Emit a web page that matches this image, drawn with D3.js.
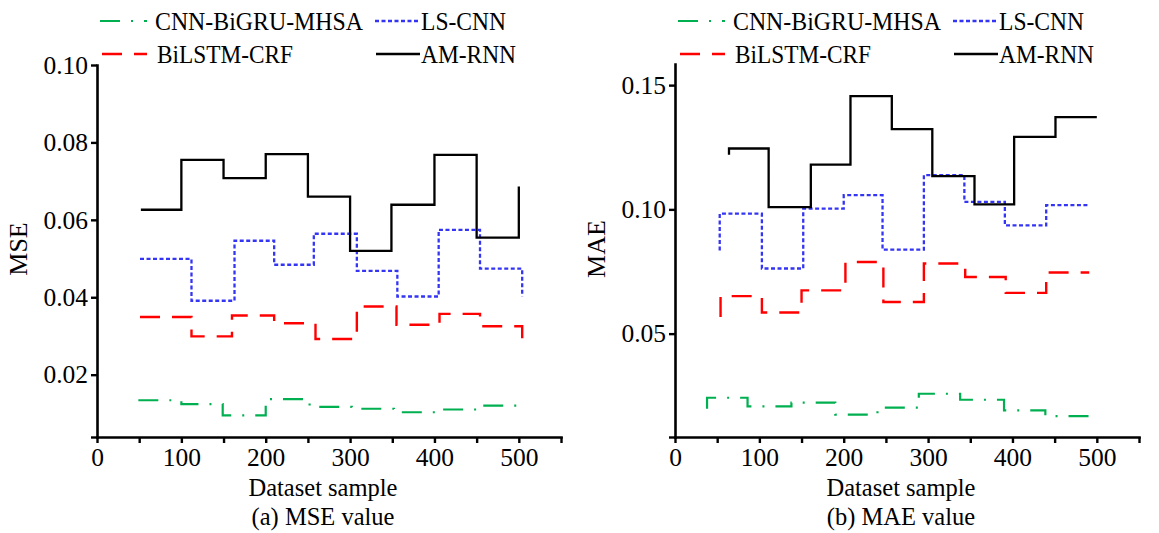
<!DOCTYPE html>
<html>
<head>
<meta charset="utf-8">
<script src="https://cdn.jsdelivr.net/npm/d3@7"></script>
<style>
  body { margin: 0; background: #fff; }
</style>
</head>
<body>
<div id="graf"></div>
<script>
// ticks
var sampleTicks = [0, 50, 100, 150, 200, 250, 300, 350, 400, 450, 500, 550];
var mseTicks = [0.02, 0.04, 0.06, 0.08, 0.10];
var maeTicks = [0.05, 0.10, 0.15];

var modelos = ["CNN-BiGRU-MHSA", "LS-CNN", "BiLSTM-CRF", "AM-RNN"];

// (a) MSE  [sample, value], step after the point
var mseBiGRU = [[49, 0.0134], [100, 0.0124], [149, 0.0095], [200, 0.0137], [252, 0.0117],
                [302, 0.0112], [352, 0.0103], [405, 0.0110], [452, 0.0120], [500, 0.0120]];
var mseLSCNN = [[51, 0.0499], [112, 0.0391], [163, 0.0546], [210, 0.0484], [257, 0.0564],
                [308, 0.0468], [356, 0.0402], [405, 0.0574], [454, 0.0474], [504, 0.0402]];
var mseBiLSTM = [[51, 0.0349], [112, 0.0299], [160, 0.0353], [210, 0.0333], [259, 0.0292],
                 [308, 0.0376], [355, 0.0329], [406, 0.0357], [454, 0.0325], [504, 0.0292]];
var mseAMRNN = [[52, 0.0626], [100, 0.0755], [150, 0.0708], [200, 0.0770], [250, 0.0660],
                [300, 0.0520], [349, 0.0639], [400, 0.0768], [450, 0.0554], [500, 0.0686]];

// (b) MAE  [sample, value], step before the point
var maeBiGRU = [[38, 0.0198], [86, 0.0242], [138, 0.0207], [190, 0.0222], [240, 0.0174],
                [289, 0.0202], [338, 0.0258], [390, 0.0234], [439, 0.0191], [491, 0.0168]];
var maeLSCNN = [[53, 0.0835], [103, 0.0983], [152, 0.0762], [200, 0.1003], [246, 0.1057],
                [295, 0.0838], [343, 0.1138], [391, 0.1030], [440, 0.0936], [491, 0.1017]];
var maeBiLSTM = [[54, 0.0567], [103, 0.0651], [150, 0.0585], [202, 0.0674], [247, 0.0788],
                 [295, 0.0627], [344, 0.0782], [392, 0.0728], [440, 0.0664], [491, 0.0746]];
var maeAMRNN = [[64, 0.1220], [111, 0.1245], [161, 0.1009], [208, 0.1180], [257, 0.1456],
                [305, 0.1323], [355, 0.1134], [402, 0.1020], [451, 0.1292], [500, 0.1371]];

var estilos = {
  "CNN-BiGRU-MHSA": { color: "#00b050", dash: "20,11,2,11", w: 2.2 },
  "LS-CNN":         { color: "#3434f4", dash: "4,2.5", w: 2.3 },
  "BiLSTM-CRF":     { color: "#ff0000", dash: "20,12", w: 2.4 },
  "AM-RNN":         { color: "#000000", dash: null, w: 2.3 }
};

var fuente = "'Liberation Serif', 'Times New Roman', serif";

var svg = d3.select("#graf")
  .append("svg")
  .attr("width", 1159)
  .attr("height", 533)
  .style("background", "#fff");

function panel(cfg) {
  var x = d3.scaleLinear().domain([0, 550]).range([cfg.x0, cfg.x0 + 464]);
  var y = d3.scaleLinear().domain(cfg.yDom).range([437, cfg.yTop]);

  var g = svg.append("g");

  // y axis, bottom tick without label
  var yAxis = g.append("g")
    .attr("transform", "translate(" + cfg.x0 + ",0)")
    .call(d3.axisLeft(y)
      .tickValues([cfg.yDom[0]].concat(cfg.ticks))
      .tickFormat(function (d) { return d === cfg.yDom[0] ? "" : d3.format(".2f")(d); })
      .tickSize(6).tickSizeOuter(0).tickPadding(3));

  var xAxis = g.append("g")
    .attr("transform", "translate(0,437)")
    .call(d3.axisBottom(x)
      .tickValues(sampleTicks)
      .tickFormat(function (d) { return (d % 100 === 0 && d <= 500) ? d : ""; })
      .tickSize(6).tickSizeOuter(0).tickPadding(5));

  [yAxis, xAxis].forEach(function (a) {
    a.select(".domain").attr("stroke-width", 2.6).attr("stroke-linecap", "square");
    a.selectAll(".tick line").attr("stroke-width", 2.4);
    a.selectAll("text")
      .attr("font-family", fuente)
      .attr("font-size", "25.5px")
      .attr("fill", "black");
  });

  // step lines
  var linea = d3.line()
    .x(function (d) { return x(d[0]); })
    .y(function (d) { return y(d[1]); })
    .curve(cfg.curve);

  modelos.forEach(function (m, i) {
    var e = estilos[m];
    g.append("path")
      .datum(cfg.series[i])
      .attr("d", linea)
      .attr("fill", "none")
      .attr("stroke", e.color)
      .attr("stroke-width", e.w)
      .attr("stroke-dasharray", e.dash);
  });

  // axis titles
  g.append("text")
    .text(cfg.yLabel)
    .attr("transform", "translate(" + (cfg.x0 - 70) + ",249) rotate(-90)")
    .style("text-anchor", "middle")
    .attr("font-family", fuente)
    .attr("font-size", "26px")
    .attr("fill", "black");

  g.append("text")
    .text("Dataset sample")
    .attr("x", cfg.x0 + 226)
    .attr("y", 496)
    .style("text-anchor", "middle")
    .attr("font-family", fuente)
    .attr("font-size", "24.5px")
    .attr("fill", "black");

  g.append("text")
    .text(cfg.caption)
    .attr("x", cfg.x0 + 226)
    .attr("y", 525)
    .style("text-anchor", "middle")
    .attr("font-family", fuente)
    .attr("font-size", "24.5px")
    .attr("fill", "black");

  // legend, two rows
  var pos = [
    { x1: 3, x2: 50, tx: 58, y: 21, len: 208 },
    { x1: 278, x2: 323, tx: 324, y: 21, len: 85 },
    { x1: 5, x2: 50, tx: 60, y: 54, len: 136 },
    { x1: 279, x2: 323, tx: 324, y: 54, len: 95 }
  ];
  var leyenda = g.append("g").attr("class", "leyenda");
  modelos.forEach(function (m, i) {
    var e = estilos[m], p = pos[i];
    leyenda.append("line")
      .attr("x1", cfg.x0 + p.x1)
      .attr("x2", cfg.x0 + p.x2)
      .attr("y1", p.y)
      .attr("y2", p.y)
      .attr("stroke", e.color)
      .attr("stroke-width", e.w)
      .attr("stroke-dasharray", e.dash);
    leyenda.append("text")
      .text(m)
      .attr("x", cfg.x0 + p.tx)
      .attr("y", p.y + 8.5)
      .attr("textLength", p.len)
      .attr("lengthAdjust", "spacingAndGlyphs")
      .attr("font-family", fuente)
      .attr("font-size", "25.5px")
      .attr("fill", "black");
  });
}

panel({
  x0: 97,
  yDom: [0.0039, 0.10],
  yTop: 65,
  ticks: mseTicks,
  yLabel: "MSE",
  caption: "(a) MSE value",
  curve: d3.curveStepAfter,
  series: [mseBiGRU, mseLSCNN, mseBiLSTM, mseAMRNN]
});

panel({
  x0: 675,
  yDom: [0.0084, 0.1585],
  yTop: 64,
  ticks: maeTicks,
  yLabel: "MAE",
  caption: "(b) MAE value",
  curve: d3.curveStepBefore,
  series: [maeBiGRU, maeLSCNN, maeBiLSTM, maeAMRNN]
});
</script>
</body>
</html>
